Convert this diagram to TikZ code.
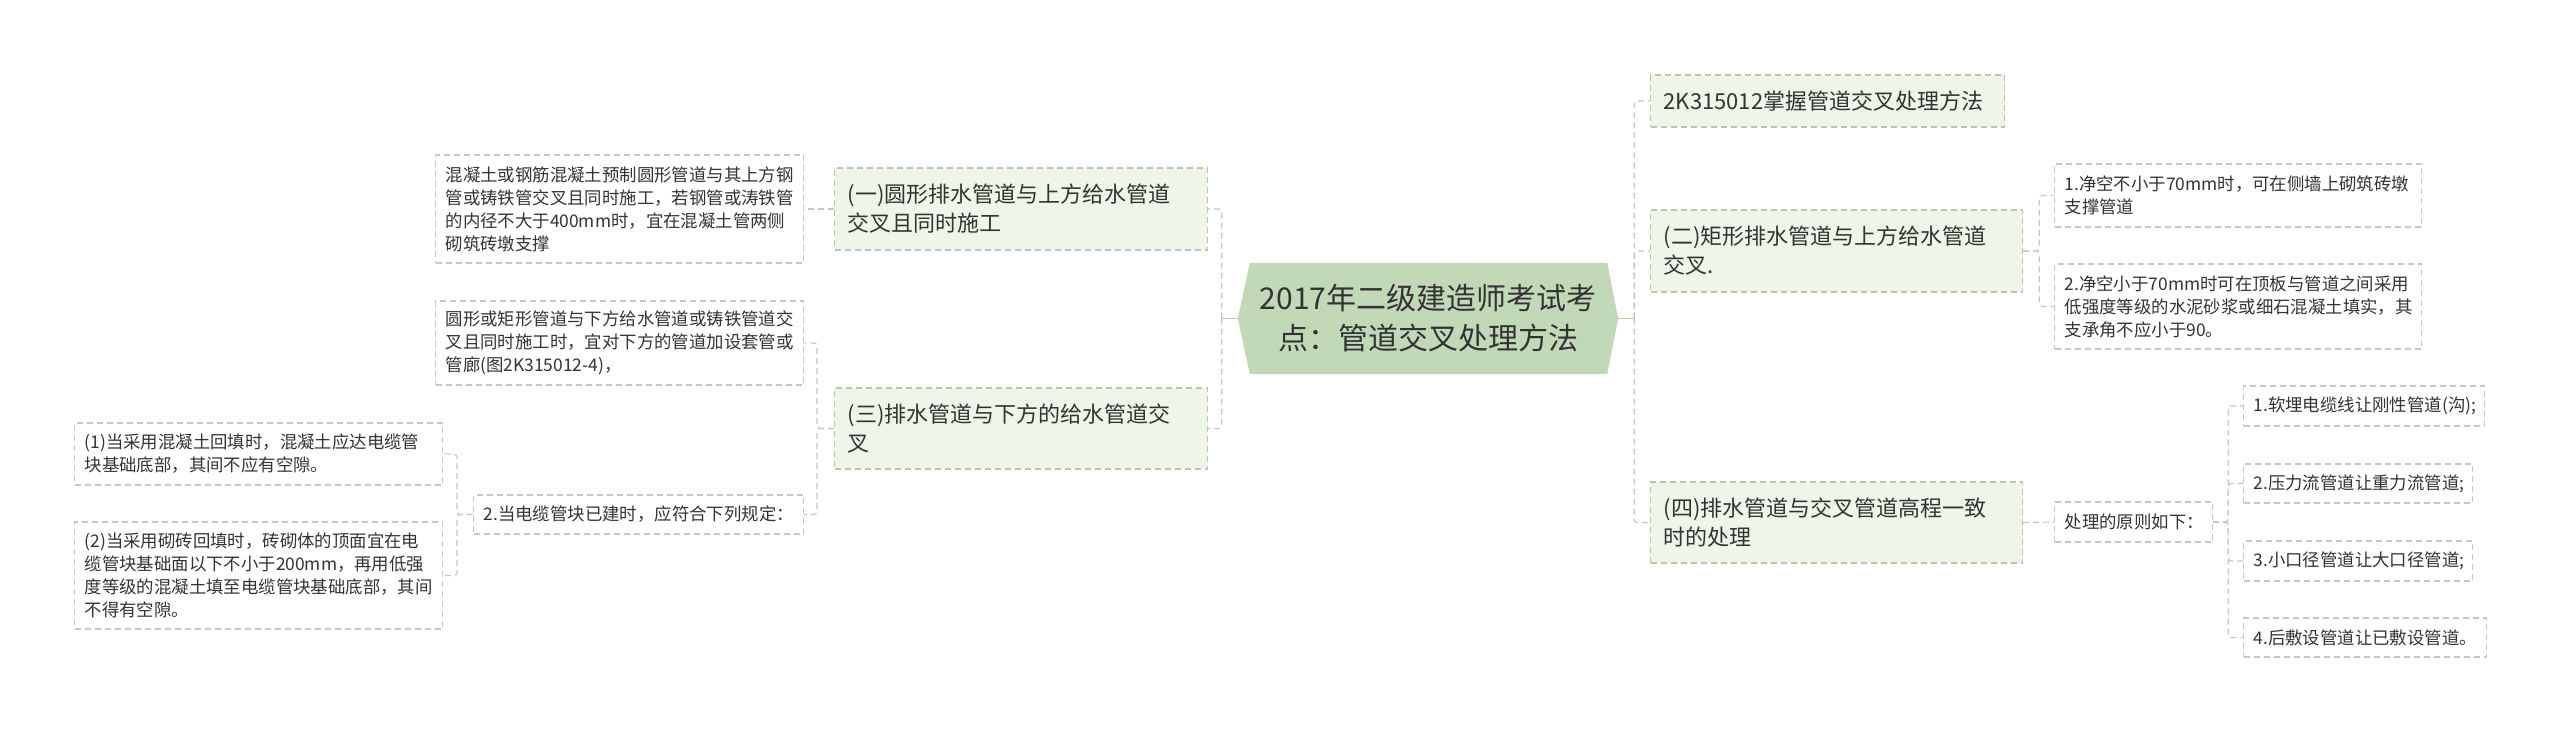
\documentclass[tikz,border=0pt]{standalone}
\usepackage{fontspec}
\setmainfont{Noto Sans CJK SC}
\usetikzlibrary{backgrounds,calc}
\definecolor{txt}{HTML}{333333}
\definecolor{lvfill}{HTML}{EFF5E8}
\definecolor{lvborder}{HTML}{B9C4B1}
\definecolor{smborder}{HTML}{C6C9C3}
\definecolor{connc}{HTML}{C2CABD}
\definecolor{rootfill}{HTML}{C2D9B7}
\definecolor{stubc}{HTML}{B7CEAC}
\tikzset{
  base/.style={rectangle, anchor=west, align=left, text=txt, line width=1.2pt,
    dash pattern=on 6pt off 4pt},
  bignode/.style={base, fill=lvfill, draw=lvborder, inner xsep=13pt, inner ysep=0pt,
    font=\fontsize{22}{29}\selectfont},
  smallnode/.style={base, fill=white, draw=smborder, inner xsep=10pt, inner ysep=0pt,
    font=\fontsize{17.4}{23}\selectfont},
  conn/.style={draw=connc, line width=1.2pt, dash pattern=on 6pt off 4pt, rounded corners=3pt},
  stub/.style={draw=stubc, line width=1.6pt},
  roottext/.style={rectangle, minimum width=380pt, minimum height=111pt, inner sep=0pt,
    align=center, text=txt, font=\fontsize{30}{40}\selectfont}
}
\begin{document}
\begin{tikzpicture}[x=1pt,y=-1pt]
\useasboundingbox (0,0) rectangle (2560,733);
% root
\node[roottext] (root) at (1428,318.5) {2017年二级建造师考试考\\点：管道交叉处理方法};
\begin{scope}[on background layer]
\fill[rootfill] (root.west) -- ($(root.north west)+(12,0)$) -- ($(root.north east)+(-11,0)$)
  -- (root.east) -- ($(root.south east)+(-11,0)$) -- ($(root.south west)+(12,0)$) -- cycle;
\end{scope}
% left side
\node[bignode, text width=347pt, minimum height=82pt] (n1) at (834,209) {(一)圆形排水管道与上方给水管道\\交叉且同时施工};
\node[bignode, text width=347pt, minimum height=81pt] (n3) at (834,428.5) {(三)排水管道与下方的给水管道交\\叉};
\node[smallnode, text width=348pt, minimum height=108pt] (a1) at (435,209) {混凝土或钢筋混凝土预制圆形管道与其上方钢\\管或铸铁管交叉且同时施工，若钢管或涛铁管\\的内径不大于400mm时，宜在混凝土管两侧\\砌筑砖墩支撑};
\node[smallnode, text width=348pt, minimum height=84pt] (a3) at (435,343) {圆形或矩形管道与下方给水管道或铸铁管道交\\叉且同时施工时，宜对下方的管道加设套管或\\管廊(图2K315012-4)，};
\node[smallnode, text width=310pt, minimum height=39pt] (a32) at (473,514.5) {2.当电缆管块已建时，应符合下列规定：};
\node[smallnode, text width=348pt, minimum height=62pt] (b1) at (74,454) {(1)当采用混凝土回填时，混凝土应达电缆管\\块基础底部，其间不应有空隙。};
\node[smallnode, text width=348pt, minimum height=107pt] (b2) at (74,575.5) {(2)当采用砌砖回填时，砖砌体的顶面宜在电\\缆管块基础面以下不小于200mm，再用低强\\度等级的混凝土填至电缆管块基础底部，其间\\不得有空隙。};
% right side
\node[bignode, text width=328pt, minimum height=52pt] (r1) at (1650,101) {2K315012掌握管道交叉处理方法};
\node[bignode, text width=346pt, minimum height=82pt] (r2) at (1650,251) {(二)矩形排水管道与上方给水管道\\交叉.};
\node[bignode, text width=346pt, minimum height=81pt] (r4) at (1650,522.5) {(四)排水管道与交叉管道高程一致\\时的处理};
\node[smallnode, text width=347pt, minimum height=63pt] (r2a) at (2054,195.5) {1.净空不小于70mm时，可在侧墙上砌筑砖墩\\支撑管道};
\node[smallnode, text width=347pt, minimum height=85pt] (r2b) at (2054,306.5) {2.净空小于70mm时可在顶板与管道之间采用\\低强度等级的水泥砂浆或细石混凝土填实，其\\支承角不应小于90。};
\node[smallnode, text width=138pt, minimum height=40pt] (p) at (2054,522) {处理的原则如下：};
\node[smallnode, text width=221pt, minimum height=40pt] (p1) at (2243,406) {1.软埋电缆线让刚性管道(沟);};
\node[smallnode, text width=209pt, minimum height=39pt] (p2) at (2243,483.5) {2.压力流管道让重力流管道;};
\node[smallnode, text width=209pt, minimum height=40pt] (p3) at (2243,561) {3.小口径管道让大口径管道;};
\node[smallnode, text width=223pt, minimum height=39pt] (p4) at (2243,637.5) {4.后敷设管道让已敷设管道。};
% root stubs
\draw[stub] (root.west) -- ++(-16,0) coordinate (rl);
\draw[stub] (root.east) -- ++(16,0) coordinate (rr);
% connectors left
\draw[conn] (rl) |- (n1.east);
\draw[conn] (rl) |- (n3.east);
\draw[conn] (n1.west) -- (a1.east);
\draw[conn] (n3.west) -- ++(-17,0) |- (a3.east);
\draw[conn] (n3.west) -- ++(-17,0) |- (a32.east);
\draw[conn] (a32.west) -- ++(-16,0) |- (b1.east);
\draw[conn] (a32.west) -- ++(-16,0) |- (b2.east);
% connectors right
\draw[conn] (rr) |- (r1.west);
\draw[conn] (rr) |- (r2.west);
\draw[conn] (rr) |- (r4.west);
\draw[conn] (r2.east) -- ++(16,0) |- (r2a.west);
\draw[conn] (r2.east) -- ++(16,0) |- (r2b.west);
\draw[conn] (r4.east) -- (p.west);
\draw[conn] (p.east) -- ++(15,0) |- (p1.west);
\draw[conn] (p.east) -- ++(15,0) |- (p2.west);
\draw[conn] (p.east) -- ++(15,0) |- (p3.west);
\draw[conn] (p.east) -- ++(15,0) |- (p4.west);
\end{tikzpicture}
\end{document}
